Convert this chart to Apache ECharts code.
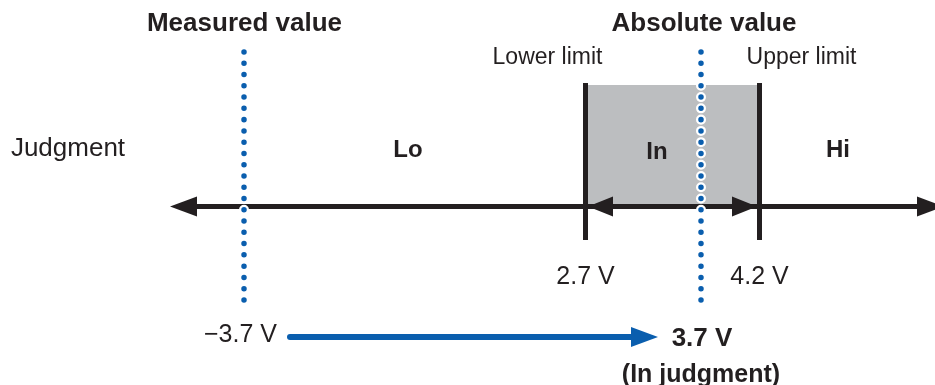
<!DOCTYPE html>
<html>
<head>
<meta charset="utf-8">
<script src="https://cdn.jsdelivr.net/npm/echarts@6/dist/echarts.min.js"></script>
<style>
  html, body { margin: 0; padding: 0; background: #fff; }
  #chart { width: 935px; height: 385px; }
</style>
</head>
<body>
<div id="chart"></div>
<script>
// values shown on the diagram
const headings = ['Measured value', 'Absolute value']
const limitNames = ['Lower limit', 'Upper limit']
const limitVolts = [2.7, 4.2]
const measuredVolt = -3.7
const absoluteVolt = 3.7
const zoneNames = ['Lo', 'In', 'Hi']
const rowLabel = 'Judgment'
const resultNote = '(In judgment)'

// schematic layout (not to scale), in axis units = pixels
const INK = '#231f20'
const BLUE = '#0a5eae'
const GRAY = '#bcbec0'
const FONT = '"Liberation Sans", Arial, sans-serif'
const xMeasured = 243.5
const xAbsolute = 701
const xLimits = [585.5, 759.5]
const xZones = [408, 657, 838]
const yLine = 206.5

function fmtVolt (v) {
  return (v < 0 ? '\u2212' : '') + Math.abs(v).toFixed(1) + ' V'
}

function txt (x, y, text, size, bold) {
  return {
    value: [x, y],
    name: text,
    label: { fontSize: size, fontWeight: bold ? 'bold' : 'normal' }
  }
}

const labels = [
  txt(xMeasured + 1, 24, headings[0], 26, true),
  txt(xAbsolute + 3, 24, headings[1], 26, true),
  txt(xLimits[0] - 38, 58, limitNames[0], 23, false),
  txt(xLimits[1] + 42, 58, limitNames[1], 23, false),
  txt(68, 149, rowLabel, 26, false),
  txt(xZones[0], 150, zoneNames[0], 24, true),
  txt(xZones[1], 152, zoneNames[1], 24, true),
  txt(xZones[2], 150, zoneNames[2], 24, true),
  txt(xLimits[0], 277, fmtVolt(limitVolts[0]), 25, false),
  txt(xLimits[1], 277, fmtVolt(limitVolts[1]), 25, false),
  txt(xMeasured - 3, 335, fmtVolt(measuredVolt), 25, false),
  txt(xAbsolute + 1, 339, fmtVolt(absoluteVolt), 26, true),
  txt(xAbsolute, 375, resultNote, 25, true)
]

const dotted = [
  { coords: [[xMeasured, 52], [xMeasured, 311]] },
  { coords: [[xAbsolute, 52], [xAbsolute, 311]] }
]

const chart = echarts.init(document.getElementById('chart'))
chart.setOption({
  animation: false,
  backgroundColor: '#fff',
  grid: { left: 0, right: 0, top: 0, bottom: 0 },
  xAxis: { type: 'value', min: 0, max: 935, show: false },
  yAxis: { type: 'value', min: 0, max: 385, inverse: true, show: false },
  series: [
    {
      // "In" band between the limits
      type: 'custom',
      z: 1,
      silent: true,
      data: [[xLimits[0] + 2.5, 85, xLimits[1] - 2.5, yLine]],
      renderItem (params, api) {
        const p0 = api.coord([api.value(0), api.value(1)])
        const p1 = api.coord([api.value(2), api.value(3)])
        return {
          type: 'rect',
          shape: { x: p0[0], y: p0[1], width: p1[0] - p0[0], height: p1[1] - p0[1] },
          style: { fill: GRAY }
        }
      }
    },
    {
      // number line
      type: 'lines',
      coordinateSystem: 'cartesian2d',
      z: 2,
      silent: true,
      symbol: ['triangle', 'triangle'],
      symbolSize: [[20, 27], [20, 27]],
      lineStyle: { color: INK, width: 5, opacity: 1 },
      data: [{ coords: [[183.5, yLine], [930.5, yLine]] }]
    },
    {
      // arrows inside the band
      type: 'lines',
      coordinateSystem: 'cartesian2d',
      z: 2,
      silent: true,
      symbol: ['triangle', 'triangle'],
      symbolSize: [[20, 25], [20, 25]],
      lineStyle: { color: INK, width: 5, opacity: 1 },
      data: [{ coords: [[xLimits[0] + 2.5 + 12.5, yLine], [xLimits[1] - 2.5 - 12.5, yLine]] }]
    },
    {
      // limit bars
      type: 'lines',
      coordinateSystem: 'cartesian2d',
      z: 2,
      silent: true,
      symbol: 'none',
      lineStyle: { color: INK, width: 5, opacity: 1 },
      data: xLimits.map(x => ({ coords: [[x, 83], [x, 240]] }))
    },
    {
      // white halo under the dots
      type: 'lines',
      coordinateSystem: 'cartesian2d',
      z: 3,
      silent: true,
      symbol: 'none',
      lineStyle: { color: '#fff', width: 10, opacity: 1, type: [0.01, 11.26], cap: 'round' },
      data: dotted
    },
    {
      type: 'lines',
      coordinateSystem: 'cartesian2d',
      z: 4,
      silent: true,
      symbol: 'none',
      lineStyle: { color: BLUE, width: 5.5, opacity: 1, type: [0.01, 11.26], cap: 'round' },
      data: dotted
    },
    {
      // measured -> absolute arrow
      type: 'lines',
      coordinateSystem: 'cartesian2d',
      z: 4,
      silent: true,
      symbol: ['none', 'triangle'],
      symbolSize: [[20, 27], [20, 27]],
      lineStyle: { color: BLUE, width: 6, opacity: 1, cap: 'round' },
      data: [{ coords: [[290, 337], [644.5, 337]] }]
    },
    {
      type: 'scatter',
      z: 5,
      silent: true,
      symbolSize: 1,
      itemStyle: { color: 'rgba(0,0,0,0)', opacity: 1 },
      label: {
        show: true,
        position: 'inside',
        formatter: '{b}',
        color: INK,
        opacity: 1,
        fontFamily: FONT
      },
      data: labels
    }
  ]
})
</script>
</body>
</html>
